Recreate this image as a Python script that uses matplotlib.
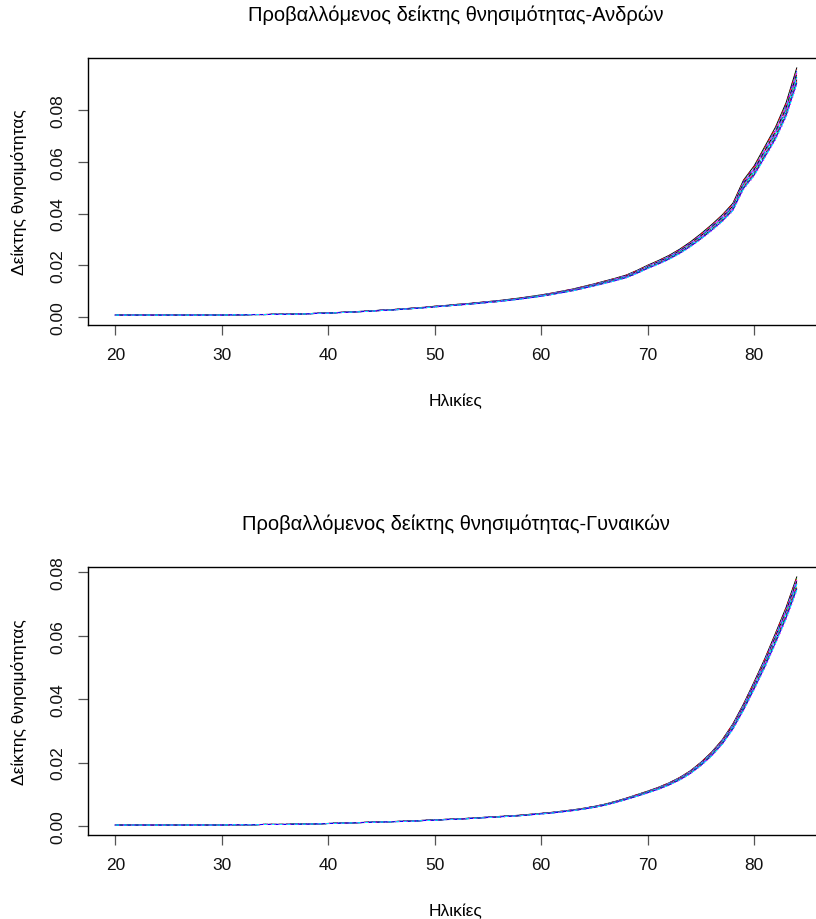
import numpy as np
import matplotlib
matplotlib.use('Agg')
import matplotlib.pyplot as plt

plt.rcParams['font.family'] = ['Liberation Sans', 'DejaVu Sans']

# Ages on the x axis
ages = np.arange(20, 85)

# Highest projected curve (first projection year) - men
men_top = [0.0007, 0.0007, 0.0007, 0.0007, 0.0007, 0.0007, 0.0007, 0.0007, 0.0007, 0.0007,
           0.0007, 0.0008, 0.0008, 0.0009, 0.0009, 0.0010, 0.0010, 0.0011, 0.0012, 0.0014,
           0.0015, 0.0017, 0.0019, 0.0021, 0.0023, 0.0026, 0.0028, 0.0031, 0.0034, 0.0037,
           0.0041, 0.0044, 0.0048, 0.0051, 0.0055, 0.0059, 0.0063, 0.0068, 0.0073, 0.0079,
           0.0085, 0.0092, 0.0100, 0.0108, 0.0118, 0.0128, 0.0139, 0.0150, 0.0162, 0.0180,
           0.0200, 0.0218, 0.0238, 0.0262, 0.0290, 0.0322, 0.0357, 0.0395, 0.0440, 0.0530,
           0.0585, 0.0660, 0.0735, 0.0830, 0.0965]

# Highest projected curve (first projection year) - women
women_top = [0.0003, 0.0003, 0.0003, 0.0003, 0.0003, 0.0003, 0.0003, 0.0003, 0.0003, 0.0003,
             0.0003, 0.0004, 0.0004, 0.0004, 0.0005, 0.0005, 0.0005, 0.0006, 0.0006, 0.0007,
             0.0008, 0.0009, 0.0010, 0.0011, 0.0012, 0.0013, 0.0014, 0.0015, 0.0016, 0.0018,
             0.0019, 0.0021, 0.0022, 0.0024, 0.0026, 0.0028, 0.0030, 0.0032, 0.0034, 0.0037,
             0.0040, 0.0043, 0.0047, 0.0051, 0.0056, 0.0062, 0.0069, 0.0078, 0.0088, 0.0099,
             0.0110, 0.0122, 0.0136, 0.0153, 0.0174, 0.0201, 0.0233, 0.0272, 0.0322, 0.0385,
             0.0455, 0.0528, 0.0608, 0.0690, 0.0786]

# Relative level of each projected year against the first one
men_levels = [1.000, 0.995, 0.991, 0.987, 0.983, 0.979, 0.975, 0.971, 0.967,
              0.963, 0.959, 0.955, 0.951, 0.947, 0.943, 0.939, 0.935, 0.931]
women_levels = [1.000, 0.997, 0.994, 0.991, 0.988, 0.985, 0.982, 0.979, 0.976,
                0.973, 0.970, 0.967, 0.963, 0.959, 0.955, 0.951, 0.947, 0.943]

titles = ['Προβαλλόμενος δείκτης θνησιμότητας-Ανδρών',
          'Προβαλλόμενος δείκτης θνησιμότητας-Γυναικών']
xlabel = 'Ηλικίες'
ylabel = 'Δείκτης θνησιμότητας'

# R matplot defaults: col = 1:6, lty = 1:5
colors = ['black', 'red', '#00CD00', 'blue', 'cyan', 'magenta']
dashes = [None, (4, 4), (1, 3), (1, 3, 4, 3), (7, 3)]


def matplot(ax, top, levels, title):
    top = np.array(top)
    for i, lev in enumerate(levels):
        line, = ax.plot(ages, top * lev, color=colors[i % 6], lw=0.7)
        d = dashes[i % 5]
        if d is not None:
            line.set_dashes(d)
    ymax = max(top)
    ymin = min(top) * min(levels)
    pad = (ymax - ymin) * 0.04
    ax.set_ylim(ymin - pad, ymax + pad)
    ax.set_xlim(20 - 64 * 0.04, 84 + 64 * 0.04)
    ax.set_xticks([20, 30, 40, 50, 60, 70, 80])
    ax.set_yticks([0.00, 0.02, 0.04, 0.06, 0.08])
    ax.set_yticklabels(['0.00', '0.02', '0.04', '0.06', '0.08'], rotation=90, va='center')
    ax.tick_params(direction='out', length=7, width=0.9, color='#555555',
                   labelsize=12.5, labelcolor='#111111')
    ax.tick_params(axis='x', pad=9)
    ax.tick_params(axis='y', pad=9)
    for s in ax.spines.values():
        s.set_linewidth(1.0)
    ax.set_title(title, fontsize=14.5, pad=27)
    ax.set_xlabel(xlabel, fontsize=12.5, labelpad=22)
    ax.set_ylabel(ylabel, fontsize=12.5, labelpad=17)


fig = plt.figure(figsize=(8.16, 9.2), dpi=100)
ax1 = fig.add_axes([88 / 816, (920 - 326) / 920, 736 / 816, 267 / 920])
ax2 = fig.add_axes([88 / 816, (920 - 836) / 920, 736 / 816, 268 / 920])

matplot(ax1, men_top, men_levels, titles[0])
matplot(ax2, women_top, women_levels, titles[1])

fig.savefig('out.png', dpi=100)
